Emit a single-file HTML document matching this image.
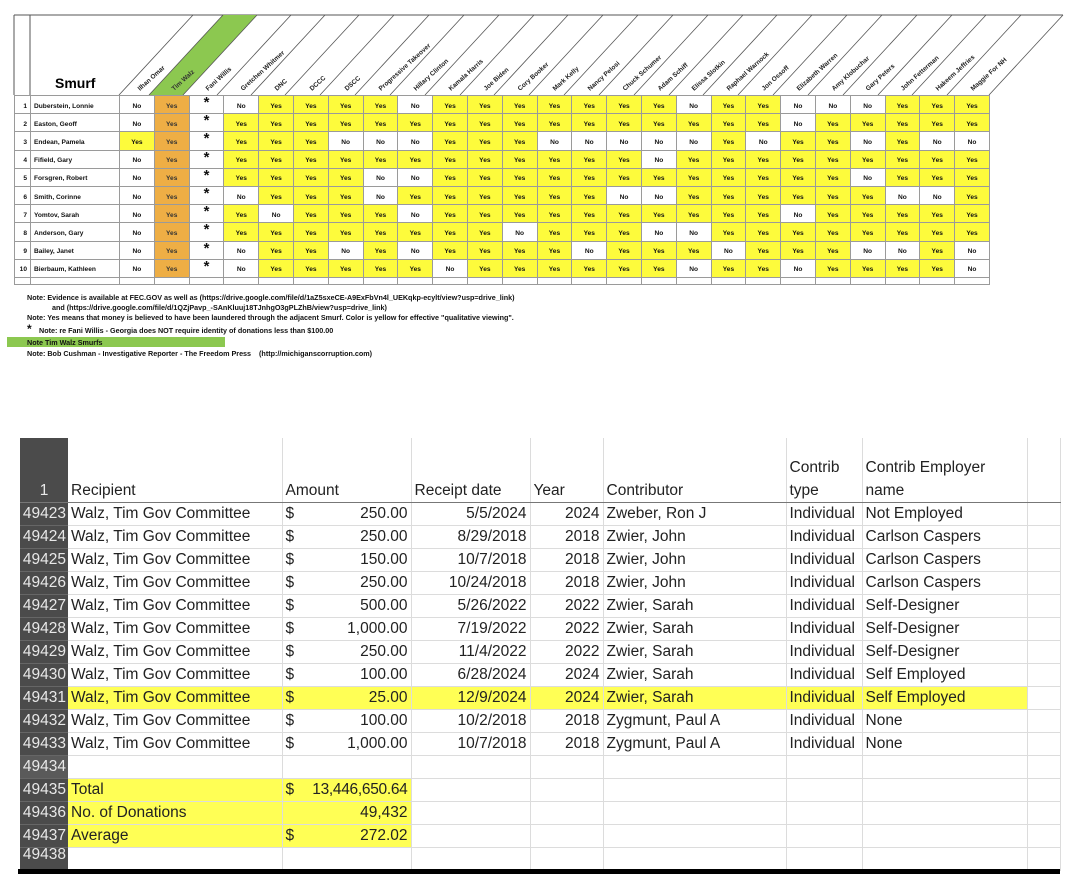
<!DOCTYPE html>
<html><head><meta charset="utf-8"><style>
*{margin:0;padding:0;box-sizing:border-box}
body{width:1074px;height:886px;background:#fff;position:relative;overflow:hidden;font-family:"Liberation Sans",Arial,sans-serif}
#top{position:absolute;left:14px;top:95px;border-collapse:collapse;table-layout:fixed}
#top td{border:1px solid #9a9a9a;height:18.2px;font-size:6.6px;font-weight:bold;text-align:center;padding-top:3px;color:#111;white-space:nowrap;overflow:hidden}
#top td.i{text-align:right;padding-right:3px}
#top td.nm{text-align:left;padding-left:3px}
#top td.y{background:#fdfb3c}
#top td.o{background:#eeae45;color:#333}
#top td.s{font-size:15px;padding-top:0;vertical-align:top;line-height:14px}
#top tr.bl td{height:7px;padding:0;font-size:0;line-height:0}
.note{position:absolute;font-size:7.2px;font-weight:bold;color:#111;white-space:nowrap}
#bot{position:absolute;left:20px;top:438px;border-collapse:collapse;table-layout:fixed;font-size:15.5px;color:#222}
#bot td{border-right:1px solid #dcdcdc;border-bottom:1px solid #dcdcdc;height:23px;padding:0 3px;white-space:nowrap;overflow:hidden;line-height:22px}
#bot td.h{background:#4b4b4b;color:#e8e8e8;text-align:right;padding:0 2px;border-bottom:1px solid #666;border-right:none}
#bot tr.hd td{height:64px;vertical-align:bottom;border-bottom:1.5px solid #777;line-height:23px}
#bot tr.hd td.h{text-align:center}
#bot .r{text-align:right}
#bot .yl{background:#ffff55}
.d{float:left}.v{float:right}
</style></head><body>

<svg style="position:absolute;left:0;top:0" width="1074" height="100">
<line x1="14" y1="15" x2="1063" y2="15" stroke="#555" stroke-width="1"/>
<line x1="14" y1="15" x2="14" y2="95" stroke="#555"/>
<line x1="30" y1="15" x2="30" y2="95" stroke="#555"/>
<polygon points="149,95 183,95 257,15 223,15" fill="#8cc850"/>
<g stroke="#555" stroke-width="0.8">
<line x1="119" y1="95" x2="193" y2="15"/><line x1="149" y1="95" x2="223" y2="15"/><line x1="183" y1="95" x2="257" y2="15"/><line x1="217" y1="95" x2="291" y2="15"/><line x1="251" y1="95" x2="325" y2="15"/><line x1="285" y1="95" x2="359" y2="15"/><line x1="320" y1="95" x2="394" y2="15"/><line x1="355" y1="95" x2="429" y2="15"/><line x1="390" y1="95" x2="464" y2="15"/><line x1="425" y1="95" x2="499" y2="15"/><line x1="460" y1="95" x2="534" y2="15"/><line x1="494" y1="95" x2="568" y2="15"/><line x1="529" y1="95" x2="603" y2="15"/><line x1="564" y1="95" x2="638" y2="15"/><line x1="599" y1="95" x2="673" y2="15"/><line x1="634" y1="95" x2="708" y2="15"/><line x1="669" y1="95" x2="743" y2="15"/><line x1="703" y1="95" x2="777" y2="15"/><line x1="738" y1="95" x2="812" y2="15"/><line x1="773" y1="95" x2="847" y2="15"/><line x1="808" y1="95" x2="882" y2="15"/><line x1="843" y1="95" x2="917" y2="15"/><line x1="878" y1="95" x2="952" y2="15"/><line x1="912" y1="95" x2="986" y2="15"/><line x1="947" y1="95" x2="1021" y2="15"/><line x1="989" y1="95" x2="1063" y2="15"/>
</g>
<text x="55" y="88" font-family="Liberation Sans" font-weight="bold" font-size="14">Smurf</text>
<g font-family="Liberation Sans" font-size="6.5" font-weight="bold" fill="#222">
<text transform="translate(140,91) rotate(-42)">Ilhan Omar</text>
<text transform="translate(174,91) rotate(-42)" fill="#333">Tim Walz</text>
<text transform="translate(208,91) rotate(-42)">Fani Willis</text>
<text transform="translate(243,91) rotate(-42)">Gretchen Whitmer</text>
<text transform="translate(277,91) rotate(-42)">DNC</text>
<text transform="translate(312,91) rotate(-42)">DCCC</text>
<text transform="translate(347,91) rotate(-42)">DSCC</text>
<text transform="translate(381,91) rotate(-42)">Progressive Takeover</text>
<text transform="translate(416,91) rotate(-42)">Hillary Clinton</text>
<text transform="translate(451,91) rotate(-42)">Kamala Harris</text>
<text transform="translate(486,91) rotate(-42)">Joe Biden</text>
<text transform="translate(520,91) rotate(-42)">Cory Booker</text>
<text transform="translate(555,91) rotate(-42)">Mark Kelly</text>
<text transform="translate(590,91) rotate(-42)">Nancy Pelosi</text>
<text transform="translate(625,91) rotate(-42)">Chuck Schumer</text>
<text transform="translate(660,91) rotate(-42)">Adam Schiff</text>
<text transform="translate(694,91) rotate(-42)">Elissa Slotkin</text>
<text transform="translate(729,91) rotate(-42)">Raphael Warnock</text>
<text transform="translate(764,91) rotate(-42)">Jon Ossoff</text>
<text transform="translate(799,91) rotate(-42)">Elizabeth Warren</text>
<text transform="translate(834,91) rotate(-42)">Amy Klobuchar</text>
<text transform="translate(868,91) rotate(-42)">Gary Peters</text>
<text transform="translate(903,91) rotate(-42)">John Fetterman</text>
<text transform="translate(938,91) rotate(-42)">Hakeem Jeffries</text>
<text transform="translate(973,91) rotate(-42)">Maggie For NH</text>
</g>
</svg>

<table id="top">
<colgroup><col style="width:16px"><col style="width:89px"><col span="25" style="width:34.8px"></colgroup>
<tr><td class="i">1</td><td class="nm">Duberstein, Lonnie</td><td>No</td><td class="o">Yes</td><td class="s">*</td><td>No</td><td class="y">Yes</td><td class="y">Yes</td><td class="y">Yes</td><td class="y">Yes</td><td>No</td><td class="y">Yes</td><td class="y">Yes</td><td class="y">Yes</td><td class="y">Yes</td><td class="y">Yes</td><td class="y">Yes</td><td class="y">Yes</td><td>No</td><td class="y">Yes</td><td class="y">Yes</td><td>No</td><td>No</td><td>No</td><td class="y">Yes</td><td class="y">Yes</td><td class="y">Yes</td></tr>
<tr><td class="i">2</td><td class="nm">Easton, Geoff</td><td>No</td><td class="o">Yes</td><td class="s">*</td><td class="y">Yes</td><td class="y">Yes</td><td class="y">Yes</td><td class="y">Yes</td><td class="y">Yes</td><td class="y">Yes</td><td class="y">Yes</td><td class="y">Yes</td><td class="y">Yes</td><td class="y">Yes</td><td class="y">Yes</td><td class="y">Yes</td><td class="y">Yes</td><td class="y">Yes</td><td class="y">Yes</td><td class="y">Yes</td><td>No</td><td class="y">Yes</td><td class="y">Yes</td><td class="y">Yes</td><td class="y">Yes</td><td class="y">Yes</td></tr>
<tr><td class="i">3</td><td class="nm">Endean, Pamela</td><td class="y">Yes</td><td class="o">Yes</td><td class="s">*</td><td class="y">Yes</td><td class="y">Yes</td><td class="y">Yes</td><td>No</td><td>No</td><td>No</td><td class="y">Yes</td><td class="y">Yes</td><td class="y">Yes</td><td>No</td><td>No</td><td>No</td><td>No</td><td>No</td><td class="y">Yes</td><td>No</td><td class="y">Yes</td><td class="y">Yes</td><td>No</td><td class="y">Yes</td><td>No</td><td>No</td></tr>
<tr><td class="i">4</td><td class="nm">Fifield, Gary</td><td>No</td><td class="o">Yes</td><td class="s">*</td><td class="y">Yes</td><td class="y">Yes</td><td class="y">Yes</td><td class="y">Yes</td><td class="y">Yes</td><td class="y">Yes</td><td class="y">Yes</td><td class="y">Yes</td><td class="y">Yes</td><td class="y">Yes</td><td class="y">Yes</td><td class="y">Yes</td><td>No</td><td class="y">Yes</td><td class="y">Yes</td><td class="y">Yes</td><td class="y">Yes</td><td class="y">Yes</td><td class="y">Yes</td><td class="y">Yes</td><td class="y">Yes</td><td class="y">Yes</td></tr>
<tr><td class="i">5</td><td class="nm">Forsgren, Robert</td><td>No</td><td class="o">Yes</td><td class="s">*</td><td class="y">Yes</td><td class="y">Yes</td><td class="y">Yes</td><td class="y">Yes</td><td>No</td><td>No</td><td class="y">Yes</td><td class="y">Yes</td><td class="y">Yes</td><td class="y">Yes</td><td class="y">Yes</td><td class="y">Yes</td><td class="y">Yes</td><td class="y">Yes</td><td class="y">Yes</td><td class="y">Yes</td><td class="y">Yes</td><td class="y">Yes</td><td>No</td><td class="y">Yes</td><td class="y">Yes</td><td class="y">Yes</td></tr>
<tr><td class="i">6</td><td class="nm">Smith, Corinne</td><td>No</td><td class="o">Yes</td><td class="s">*</td><td>No</td><td class="y">Yes</td><td class="y">Yes</td><td class="y">Yes</td><td>No</td><td class="y">Yes</td><td class="y">Yes</td><td class="y">Yes</td><td class="y">Yes</td><td class="y">Yes</td><td class="y">Yes</td><td>No</td><td>No</td><td class="y">Yes</td><td class="y">Yes</td><td class="y">Yes</td><td class="y">Yes</td><td class="y">Yes</td><td class="y">Yes</td><td>No</td><td>No</td><td class="y">Yes</td></tr>
<tr><td class="i">7</td><td class="nm">Yomtov, Sarah</td><td>No</td><td class="o">Yes</td><td class="s">*</td><td class="y">Yes</td><td>No</td><td class="y">Yes</td><td class="y">Yes</td><td class="y">Yes</td><td>No</td><td class="y">Yes</td><td class="y">Yes</td><td class="y">Yes</td><td class="y">Yes</td><td class="y">Yes</td><td class="y">Yes</td><td class="y">Yes</td><td class="y">Yes</td><td class="y">Yes</td><td class="y">Yes</td><td>No</td><td class="y">Yes</td><td class="y">Yes</td><td class="y">Yes</td><td class="y">Yes</td><td class="y">Yes</td></tr>
<tr><td class="i">8</td><td class="nm">Anderson, Gary</td><td>No</td><td class="o">Yes</td><td class="s">*</td><td class="y">Yes</td><td class="y">Yes</td><td class="y">Yes</td><td class="y">Yes</td><td class="y">Yes</td><td class="y">Yes</td><td class="y">Yes</td><td class="y">Yes</td><td>No</td><td class="y">Yes</td><td class="y">Yes</td><td class="y">Yes</td><td>No</td><td>No</td><td class="y">Yes</td><td class="y">Yes</td><td class="y">Yes</td><td class="y">Yes</td><td class="y">Yes</td><td class="y">Yes</td><td class="y">Yes</td><td class="y">Yes</td></tr>
<tr><td class="i">9</td><td class="nm">Bailey, Janet</td><td>No</td><td class="o">Yes</td><td class="s">*</td><td>No</td><td class="y">Yes</td><td class="y">Yes</td><td>No</td><td class="y">Yes</td><td>No</td><td class="y">Yes</td><td class="y">Yes</td><td class="y">Yes</td><td class="y">Yes</td><td>No</td><td class="y">Yes</td><td class="y">Yes</td><td class="y">Yes</td><td>No</td><td class="y">Yes</td><td class="y">Yes</td><td class="y">Yes</td><td>No</td><td>No</td><td class="y">Yes</td><td>No</td></tr>
<tr><td class="i">10</td><td class="nm">Bierbaum, Kathleen</td><td>No</td><td class="o">Yes</td><td class="s">*</td><td>No</td><td class="y">Yes</td><td class="y">Yes</td><td class="y">Yes</td><td class="y">Yes</td><td class="y">Yes</td><td>No</td><td class="y">Yes</td><td class="y">Yes</td><td class="y">Yes</td><td class="y">Yes</td><td class="y">Yes</td><td class="y">Yes</td><td>No</td><td class="y">Yes</td><td class="y">Yes</td><td>No</td><td class="y">Yes</td><td class="y">Yes</td><td class="y">Yes</td><td class="y">Yes</td><td>No</td></tr>
<tr class="bl"><td></td><td></td><td></td><td></td><td></td><td></td><td></td><td></td><td></td><td></td><td></td><td></td><td></td><td></td><td></td><td></td><td></td><td></td><td></td><td></td><td></td><td></td><td></td><td></td><td></td><td></td><td></td></tr>
</table>

<div class="note" style="left:27px;top:293px">Note: Evidence is available at FEC.GOV as well as (https://drive.google.com/file/d/1aZ5sxeCE-A9ExFbVn4l_UEKqkp-ecylt/view?usp=drive_link)</div>
<div class="note" style="left:52px;top:303px">and (https://drive.google.com/file/d/1QZjPavp_-SAnKluuj18TJnhgO3gPLZhB/view?usp=drive_link)</div>
<div class="note" style="left:27px;top:313px">Note: Yes means that money is believed to have been laundered through the adjacent Smurf. Color is yellow for effective "qualitative viewing".</div>
<div class="note" style="left:27px;top:322px;font-size:12px">*</div>
<div class="note" style="left:39px;top:326px">Note: re Fani Willis - Georgia does NOT require identity of donations less than $100.00</div>
<div style="position:absolute;left:7px;top:337px;width:218px;height:10px;background:#8cc850"></div>
<div class="note" style="left:27px;top:338px">Note Tim Walz Smurfs</div>
<div class="note" style="left:27px;top:349px">Note: Bob Cushman - Investigative Reporter - The Freedom Press &nbsp;&nbsp; (http://michiganscorruption.com)</div>

<table id="bot">
<colgroup><col style="width:48px"><col style="width:214px"><col style="width:129px"><col style="width:119px"><col style="width:73px"><col style="width:183px"><col style="width:76px"><col style="width:165px"><col style="width:33px"></colgroup>
<tr class="hd"><td class="h">1</td><td>Recipient</td><td>Amount</td><td>Receipt date</td><td>Year</td><td>Contributor</td><td>Contrib<br>type</td><td>Contrib Employer<br>name</td><td></td></tr>
<tr><td class="h">49423</td><td>Walz, Tim Gov Committee</td><td><span class="d">$</span><span class="v">250.00</span></td><td class="r">5/5/2024</td><td class="r">2024</td><td>Zweber, Ron J</td><td>Individual</td><td>Not Employed</td><td></td></tr>
<tr><td class="h">49424</td><td>Walz, Tim Gov Committee</td><td><span class="d">$</span><span class="v">250.00</span></td><td class="r">8/29/2018</td><td class="r">2018</td><td>Zwier, John</td><td>Individual</td><td>Carlson Caspers</td><td></td></tr>
<tr><td class="h">49425</td><td>Walz, Tim Gov Committee</td><td><span class="d">$</span><span class="v">150.00</span></td><td class="r">10/7/2018</td><td class="r">2018</td><td>Zwier, John</td><td>Individual</td><td>Carlson Caspers</td><td></td></tr>
<tr><td class="h">49426</td><td>Walz, Tim Gov Committee</td><td><span class="d">$</span><span class="v">250.00</span></td><td class="r">10/24/2018</td><td class="r">2018</td><td>Zwier, John</td><td>Individual</td><td>Carlson Caspers</td><td></td></tr>
<tr><td class="h">49427</td><td>Walz, Tim Gov Committee</td><td><span class="d">$</span><span class="v">500.00</span></td><td class="r">5/26/2022</td><td class="r">2022</td><td>Zwier, Sarah</td><td>Individual</td><td>Self-Designer</td><td></td></tr>
<tr><td class="h">49428</td><td>Walz, Tim Gov Committee</td><td><span class="d">$</span><span class="v">1,000.00</span></td><td class="r">7/19/2022</td><td class="r">2022</td><td>Zwier, Sarah</td><td>Individual</td><td>Self-Designer</td><td></td></tr>
<tr><td class="h">49429</td><td>Walz, Tim Gov Committee</td><td><span class="d">$</span><span class="v">250.00</span></td><td class="r">11/4/2022</td><td class="r">2022</td><td>Zwier, Sarah</td><td>Individual</td><td>Self-Designer</td><td></td></tr>
<tr><td class="h">49430</td><td>Walz, Tim Gov Committee</td><td><span class="d">$</span><span class="v">100.00</span></td><td class="r">6/28/2024</td><td class="r">2024</td><td>Zwier, Sarah</td><td>Individual</td><td>Self Employed</td><td></td></tr>
<tr><td class="h">49431</td><td class="yl">Walz, Tim Gov Committee</td><td class="yl"><span class="d">$</span><span class="v">25.00</span></td><td class="r yl">12/9/2024</td><td class="r yl">2024</td><td class="yl">Zwier, Sarah</td><td class="yl">Individual</td><td class="yl">Self Employed</td><td></td></tr>
<tr><td class="h">49432</td><td>Walz, Tim Gov Committee</td><td><span class="d">$</span><span class="v">100.00</span></td><td class="r">10/2/2018</td><td class="r">2018</td><td>Zygmunt, Paul A</td><td>Individual</td><td>None</td><td></td></tr>
<tr><td class="h">49433</td><td>Walz, Tim Gov Committee</td><td><span class="d">$</span><span class="v">1,000.00</span></td><td class="r">10/7/2018</td><td class="r">2018</td><td>Zygmunt, Paul A</td><td>Individual</td><td>None</td><td></td></tr>
<tr><td class="h" style="background:#5a5a5a">49434</td><td></td><td></td><td></td><td></td><td></td><td></td><td></td><td></td></tr>
<tr><td class="h">49435</td><td class="yl">Total</td><td class="yl" style="letter-spacing:-0.3px"><span class="d">$</span><span class="v">13,446,650.64</span></td><td></td><td></td><td></td><td></td><td></td><td></td></tr>
<tr><td class="h">49436</td><td class="yl">No. of Donations</td><td class="yl r">49,432</td><td></td><td></td><td></td><td></td><td></td><td></td></tr>
<tr><td class="h">49437</td><td class="yl">Average</td><td class="yl"><span class="d">$</span><span class="v">272.02</span></td><td></td><td></td><td></td><td></td><td></td><td></td></tr>
<tr><td class="h" style="height:12px;line-height:14px;vertical-align:top">49438</td><td style="height:12px"></td><td></td><td></td><td></td><td></td><td></td><td></td><td></td></tr>
</table>
<div style="position:absolute;left:18px;top:869px;width:1042px;height:5px;background:#000"></div>
</body></html>
